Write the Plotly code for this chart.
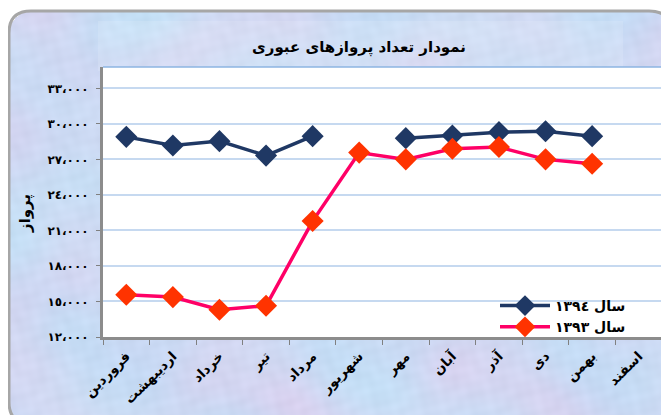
import base64
import struct
import zlib

import numpy as np
import plotly.graph_objects as go

# ---------------- data ----------------
months = ["فروردین", "اردیبهشت", "خرداد", "تیر", "مرداد", "شهریور",
          "مهر", "آبان", "آذر", "دی", "بهمن", "اسفند"]
series_1394 = [28900, 28170, 28540, 27320, 28960, None,
               28790, 29010, 29300, 29380, 28960, None]
series_1393 = [15570, 15370, 14300, 14640, 21790, 27570,
               27000, 27900, 28040, 27000, 26630, None]
name_1394 = "سال ١٣٩٤"
name_1393 = "سال ١٣٩٣"
y_tick_values = [12000, 15000, 18000, 21000, 24000, 27000, 30000, 33000]
title_text = "نمودار تعداد پروازهای عبوری"
y_title_text = "پرواز"

AR_DIGITS = "٠١٢٣٤٥٦٧٨٩"


def to_ar(v):
    s = f"{v:,}"
    return "".join(AR_DIGITS[int(c)] if c.isdigit() else ("،" if c == "," else c) for c in s)


y_tick_text = [to_ar(v) for v in y_tick_values]

# ---------------- geometry (reference-pixel coordinates) ----------------
OFF = 8                      # page body margin
VW, VH = 669, 415            # viewport
W, H = VW - OFF, VH - OFF    # figure size
PL, PT, PR, PB = 103, 67, 662, 337   # plot area in viewport pixels
L, T = PL - OFF, PT - OFF
R, B = VW - PR, VH - PB
PW, PH = PR - PL, PB - PT


def px_x(x):
    return (x - PL) / PW


def px_y(y):
    return (PB - y) / PH


# ---------------- decorative background texture ----------------
yy, xx = np.mgrid[0:H, 0:W].astype(float)
xx += OFF
yy += OFF
f1 = np.sin(xx / 37 + 2 * np.sin(yy / 43)) + np.sin(yy / 29 + 2 * np.cos(xx / 39))
f2 = np.sin(xx / 53 - 1.5 * np.cos(yy / 23)) + np.cos(yy / 41 + 1.7 * np.sin(xx / 47))
f3 = (np.sin(xx / 7.3 + 1.3 * np.sin(yy / 9.1)) * np.cos(yy / 6.7 + 1.1 * np.cos(xx / 8.3))
      + 0.6 * np.sin(xx / 3.1 + yy / 4.3) * np.cos(yy / 2.9 - xx / 5.1))
t1 = np.clip(f1 / 4 + 0.5, 0, 1)[..., None]
t2 = np.clip(f2 / 4 + 0.5, 0, 1)[..., None]
blue = np.array([198, 218, 245])
pink = np.array([218, 210, 240])
cyan = np.array([194, 230, 247])
img = blue * (1 - t1) + pink * t1
img = img * (1 - 0.5 * t2) + cyan * 0.5 * t2
img = img + (f3 * 3)[..., None]
band = (xx >= 98) & (xx <= 622) & (yy >= 21) & (yy <= 70)
img[band] = img[band] * 0.88 + 255 * 0.12
x0f, y0f, x1f, y1f, rad = 9, 11, 671, 424, 22
cx = np.clip(xx, x0f + rad, x1f - rad)
cy = np.clip(yy, y0f + rad, y1f - rad)
inside = ((xx - cx) ** 2 + (yy - cy) ** 2 <= rad ** 2) & (xx >= x0f) & (yy >= y0f)
img[~inside] = 255
img = np.clip(img, 0, 255).astype(np.uint8)


def png_bytes(arr):
    h, w, _ = arr.shape
    raw = b"".join(b"\x00" + arr[i].tobytes() for i in range(h))

    def chunk(tag, data):
        c = struct.pack(">I", len(data)) + tag + data
        return c + struct.pack(">I", zlib.crc32(tag + data) & 0xFFFFFFFF)

    return (b"\x89PNG\r\n\x1a\n"
            + chunk(b"IHDR", struct.pack(">IIBBBBB", w, h, 8, 2, 0, 0, 0))
            + chunk(b"IDAT", zlib.compress(raw, 9))
            + chunk(b"IEND", b""))


bg_uri = "data:image/png;base64," + base64.b64encode(png_bytes(img)).decode()

# ---------------- figure ----------------
FONT = "DejaVu Sans"
fig = go.Figure()
fig.add_trace(go.Scatter(
    x=months, y=series_1394, name=f"<b>{name_1394}</b>", mode="lines+markers",
    line=dict(color="#1F3864", width=3.5),
    marker=dict(symbol="diamond", size=17, color="#1F3864"),
    connectgaps=False,
))
fig.add_trace(go.Scatter(
    x=months, y=series_1393, name=f"<b>{name_1393}</b>", mode="lines+markers",
    line=dict(color="#FF0066", width=3.5),
    marker=dict(symbol="diamond", size=17, color="#FF3300"),
    connectgaps=False,
))

fx0, fx1 = px_x(x0f), px_x(x1f)
fy0, fy1 = px_y(y0f), px_y(y1f)
rx, ry = rad / PW, rad / PH
frame_path = (f"M {fx0 + rx},{fy0} L {fx1 - rx},{fy0} Q {fx1},{fy0} {fx1},{fy0 - ry} "
              f"L {fx1},{fy1 + ry} Q {fx1},{fy1} {fx1 - rx},{fy1} "
              f"L {fx0 + rx},{fy1} Q {fx0},{fy1} {fx0},{fy1 + ry} "
              f"L {fx0},{fy0 - ry} Q {fx0},{fy0} {fx0 + rx},{fy0} Z")

fig.update_layout(
    width=W, height=H, autosize=False,
    margin=dict(l=L, r=R, t=T, b=B, autoexpand=False),
    paper_bgcolor="white", plot_bgcolor="white",
    font=dict(family=FONT, color="black"),
    showlegend=True,
    title=dict(text=f"<b>{title_text}</b>", x=(359 - OFF) / W, xref="container",
               xanchor="center", y=1 - (47 - OFF) / H, yref="container", yanchor="middle",
               font=dict(size=15, family=FONT, color="black")),
    legend=dict(x=px_x(495), y=px_y(290), xanchor="left", yanchor="top",
                bgcolor="rgba(0,0,0,0)", font=dict(size=14, family=FONT, color="black"),
                itemwidth=50, tracegroupgap=0),
    xaxis=dict(type="category", categoryorder="array", categoryarray=months,
               range=[-0.5, 11.5], tickangle=-45, ticks="outside", tickson="boundaries",
               ticklen=5, tickcolor="#808080", tickwidth=1, automargin=False,
               showline=True, linecolor="#8C8C8C", linewidth=3,
               showgrid=False, zeroline=False, ticklabelstandoff=3,
               tickfont=dict(size=13.5, family=FONT, color="black"),
               tickvals=months, ticktext=[f"<b>{m}</b>" for m in months]),
    yaxis=dict(range=[12000, 34800], tickvals=y_tick_values,
               ticktext=[f"<b>{t}</b>" for t in y_tick_text], automargin=False,
               ticks="outside", ticklen=4, tickcolor="#808080",
               showline=True, linecolor="#8C8C8C", linewidth=3, ticklabelstandoff=5,
               gridcolor="#C6D9F0", gridwidth=1.5, zeroline=False,
               tickfont=dict(size=12, family=FONT, color="black")),
    images=[dict(source=bg_uri, xref="paper", yref="paper", x=px_x(OFF), y=px_y(OFF),
                 sizex=W / PW, sizey=H / PH, sizing="stretch", layer="below",
                 xanchor="left", yanchor="top")],
    shapes=[
        dict(type="path", path=frame_path, xref="paper", yref="paper",
             line=dict(color="#A6A6A6", width=3), layer="below"),
        dict(type="rect", xref="paper", yref="paper", x0=0, x1=1, y0=0, y1=1,
             fillcolor="white", line=dict(width=0), layer="below"),
        dict(type="line", xref="paper", yref="paper", x0=0, x1=1, y0=1, y1=1,
             line=dict(color="#8DB4E2", width=1.5)),
        dict(type="line", xref="paper", yref="paper", x0=1, x1=1, y0=0, y1=1,
             line=dict(color="#8DB4E2", width=1.5)),
    ],
    annotations=[dict(text=f"<b>{y_title_text}</b>", xref="paper", yref="paper",
                      x=px_x(25), y=px_y(214), xanchor="center", yanchor="middle",
                      textangle=-90, showarrow=False,
                      font=dict(size=15, family=FONT, color="black"))],
)

fig.write_html("out.html")
